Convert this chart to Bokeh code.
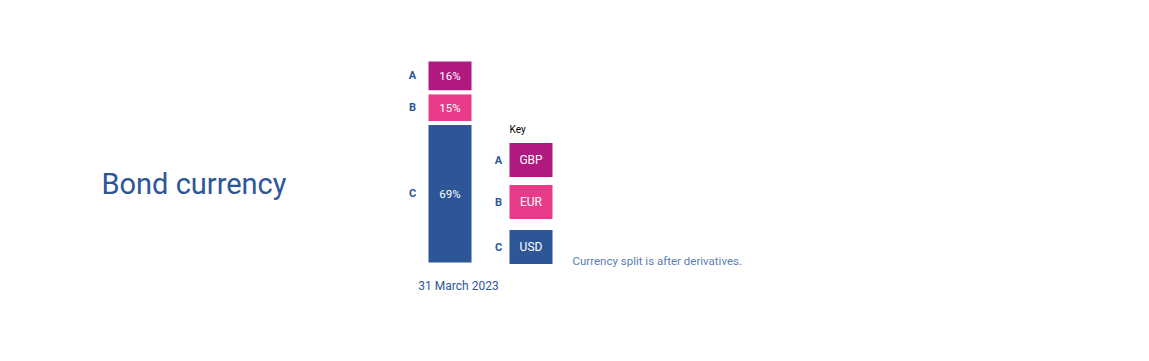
from bokeh.plotting import figure
from bokeh.models import Range1d, ColumnDataSource
from bokeh.core.properties import value
from bokeh.embed import file_html
from bokeh.resources import INLINE

# ---- data ----
categories = ["C", "B", "A"]          # stacked bottom -> top
currencies = ["USD", "EUR", "GBP"]
shares = [69, 15, 16]                  # percent
period_label = "31 March 2023"
title_text = "Bond currency"
note_text = "Currency split is after derivatives."

colors = {"A": "#B0197F", "B": "#E83C8A", "C": "#2C5698"}
blue = "#2C5698"
FONT = value("Roboto")

p = figure(width=1133, height=345, output_backend="svg", toolbar_location=None,
           x_range=Range1d(0, 1133), y_range=Range1d(345, 0),
           min_border=0, background_fill_color="white", border_fill_color="white")
p.axis.visible = False
p.grid.visible = False
p.outline_line_color = None

# percent scale for the stacked bar (0% at bar bottom, 100% at bar top)
px_per_pct = 205 / 100
p.extra_y_ranges = {"pct": Range1d(0 - (345 - 264) / px_per_pct, 100 + 59 / px_per_pct)}

bottoms, tops = [], []
acc = 0
for s in shares:
    bottoms.append(acc)
    acc += s
    tops.append(acc)
mids = [(b + t) / 2 for b, t in zip(bottoms, tops)]

src = ColumnDataSource(dict(
    cat=categories, cur=currencies, share=shares, bottom=bottoms, top=tops, mid=mids,
    color=[colors[c] for c in categories],
    label=[f"{s}%" for s in shares],
))

bar_x = 449.5
p.vbar(x=bar_x, width=47, bottom="bottom", top="top", source=src, y_range_name="pct",
       fill_color="color", line_color="white", line_width=4)
p.text(x=bar_x, y="mid", text="label", source=src, y_range_name="pct",
       text_color="white", text_font=FONT, text_font_size="11.5px",
       text_align="center", text_baseline="middle")
p.text(x=412, y="mid", text="cat", source=src, y_range_name="pct",
       text_color=blue, text_font=FONT, text_font_size="11px", text_font_style="bold",
       text_align="center", text_baseline="middle")

# date label under the bar
p.text(x=[458], y=[285], text=[period_label], text_color=blue, text_font=FONT,
       text_font_size="12px", text_align="center", text_baseline="middle")

# title
p.text(x=[101], y=[183], text=[title_text], text_color=blue, text_font=FONT,
       text_font_size="29px", text_align="left", text_baseline="middle")

# key
p.text(x=[509], y=[129], text=["Key"], text_color="black", text_font=FONT,
       text_font_size="10px", text_align="left", text_baseline="middle")
key_order = ["A", "B", "C"]
key_cur = {c: cur for c, cur in zip(categories, currencies)}
key_y = [159.5, 201.5, 246.5]
key_src = ColumnDataSource(dict(
    y=key_y, cat=key_order, cur=[key_cur[c] for c in key_order],
    color=[colors[c] for c in key_order],
))
p.rect(x=530.5, y="y", width=43, height=34, source=key_src, fill_color="color", line_color=None)
p.text(x=530.5, y="y", text="cur", source=key_src, text_color="white", text_font=FONT,
       text_font_size="12px", text_align="center", text_baseline="middle")
p.text(x=498, y="y", text="cat", source=key_src, text_color=blue, text_font=FONT,
       text_font_size="11px", text_font_style="bold", text_align="center", text_baseline="middle")

# note
p.text(x=[572], y=[260], text=[note_text], text_color="#5B7DB5", text_font=FONT,
       text_font_size="11.5px", text_align="left", text_baseline="middle")

open("out.html", "w").write(file_html(p, INLINE))
